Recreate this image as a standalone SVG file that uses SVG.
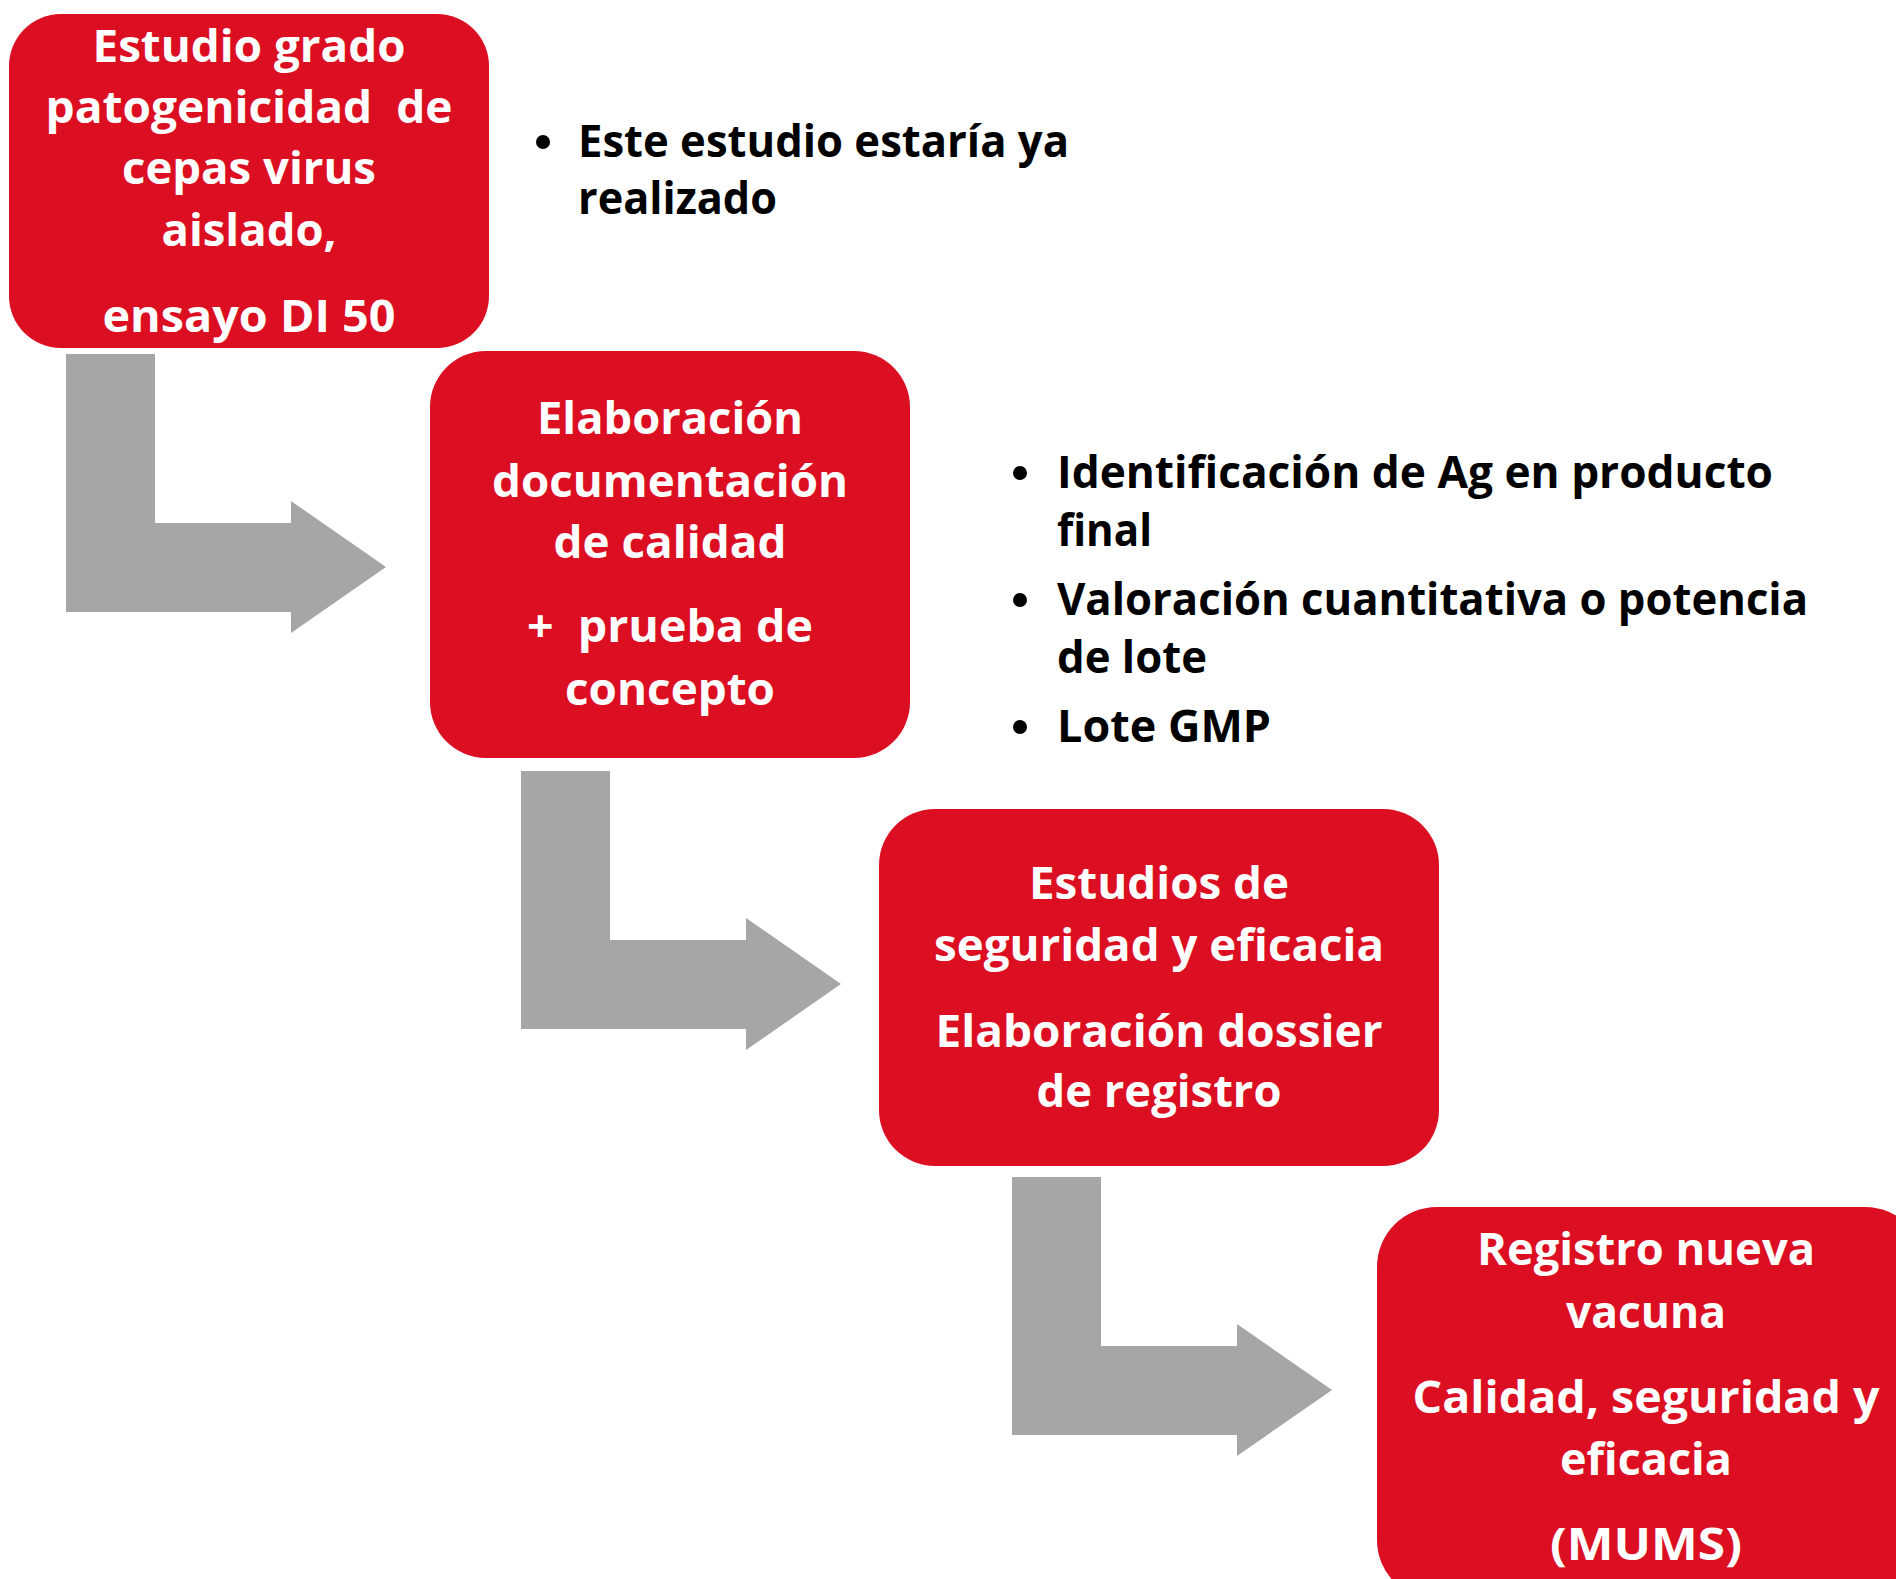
<svg xmlns="http://www.w3.org/2000/svg" width="1896" height="1579" viewBox="0 0 1896 1579">
<style>
.box{fill:#DC0E21;}
.arr{fill:#A6A6A6;}
.bt{font-family:"Open Sans","Liberation Sans",sans-serif;font-weight:700;font-size:45px;fill:#FFFFFF;text-anchor:middle;}
.bl{font-family:"Open Sans","Liberation Sans",sans-serif;font-weight:700;font-size:45px;fill:#000000;}
.dot{fill:#000000;}
</style>
<rect width="1896" height="1579" fill="#FFFFFF"/>
<g id="connectors">
<path id="arrow1" class="arr" d="M66,354 H155 V523 H291 V501 L386,567 L291,633 V612 H66 Z"/>
<path id="arrow2" class="arr" d="M521,771 H610 V940 H746 V918 L841,984 L746,1050 V1029 H521 Z"/>
<path id="arrow3" class="arr" d="M1012,1177 H1101 V1346 H1237 V1324 L1332,1390 L1237,1456 V1435 H1012 Z"/>
</g>
<g id="node1">
<rect class="box" x="9" y="14" width="480" height="334" rx="52" ry="52"/>
<text class="bt" x="249" y="62" textLength="313" lengthAdjust="spacingAndGlyphs">Estudio grado</text>
<text class="bt" x="249" y="123" textLength="407" lengthAdjust="spacingAndGlyphs" xml:space="preserve">patogenicidad  de</text>
<text class="bt" x="249" y="184" textLength="254" lengthAdjust="spacingAndGlyphs">cepas virus</text>
<text class="bt" x="249" y="246" textLength="175" lengthAdjust="spacingAndGlyphs">aislado,</text>
<text class="bt" x="249" y="332" textLength="293" lengthAdjust="spacingAndGlyphs">ensayo DI 50</text>
</g>
<g id="node2">
<rect class="box" x="430" y="351" width="480" height="407" rx="56" ry="56"/>
<text class="bt" x="670" y="434" textLength="266" lengthAdjust="spacingAndGlyphs">Elaboración</text>
<text class="bt" x="670" y="497" textLength="356" lengthAdjust="spacingAndGlyphs">documentación</text>
<text class="bt" x="670" y="558" textLength="233" lengthAdjust="spacingAndGlyphs">de calidad</text>
<text class="bt" x="670" y="642" textLength="286" lengthAdjust="spacingAndGlyphs" xml:space="preserve">+  prueba de</text>
<text class="bt" x="670" y="705" textLength="210" lengthAdjust="spacingAndGlyphs">concepto</text>
</g>
<g id="node3">
<rect class="box" x="879" y="809" width="560" height="357" rx="56" ry="56"/>
<text class="bt" x="1159" y="899" textLength="260" lengthAdjust="spacingAndGlyphs">Estudios de</text>
<text class="bt" x="1159" y="961" textLength="450" lengthAdjust="spacingAndGlyphs">seguridad y eficacia</text>
<text class="bt" x="1159" y="1047" textLength="447" lengthAdjust="spacingAndGlyphs">Elaboración dossier</text>
<text class="bt" x="1159" y="1107" textLength="245" lengthAdjust="spacingAndGlyphs">de registro</text>
</g>
<g id="node4">
<rect class="box" x="1377" y="1207" width="548" height="393" rx="60" ry="60"/>
<text class="bt" x="1646" y="1265" textLength="338" lengthAdjust="spacingAndGlyphs">Registro nueva</text>
<text class="bt" x="1646" y="1328" textLength="160" lengthAdjust="spacingAndGlyphs">vacuna</text>
<text class="bt" x="1646" y="1413" textLength="467" lengthAdjust="spacingAndGlyphs">Calidad, seguridad y</text>
<text class="bt" x="1646" y="1475" textLength="172" lengthAdjust="spacingAndGlyphs">eficacia</text>
<text class="bt" x="1646" y="1560" textLength="192" lengthAdjust="spacingAndGlyphs">(MUMS)</text>
</g>
<g id="notes1">
<circle class="dot" cx="543" cy="142" r="7"/>
<text class="bl" x="578" y="157" textLength="491" lengthAdjust="spacingAndGlyphs">Este estudio estaría ya</text>
<text class="bl" x="578" y="214" textLength="199" lengthAdjust="spacingAndGlyphs">realizado</text>
</g>
<g id="notes2">
<circle class="dot" cx="1020" cy="473" r="7"/>
<text class="bl" x="1057" y="488" textLength="716" lengthAdjust="spacingAndGlyphs">Identificación de Ag en producto</text>
<text class="bl" x="1057" y="546" textLength="95" lengthAdjust="spacingAndGlyphs">final</text>
<circle class="dot" cx="1020" cy="600" r="7"/>
<text class="bl" x="1057" y="615" textLength="751" lengthAdjust="spacingAndGlyphs">Valoración cuantitativa o potencia</text>
<text class="bl" x="1057" y="673" textLength="150" lengthAdjust="spacingAndGlyphs">de lote</text>
<circle class="dot" cx="1020" cy="727" r="7"/>
<text class="bl" x="1057" y="742" textLength="214" lengthAdjust="spacingAndGlyphs">Lote GMP</text>
</g>
</svg>
